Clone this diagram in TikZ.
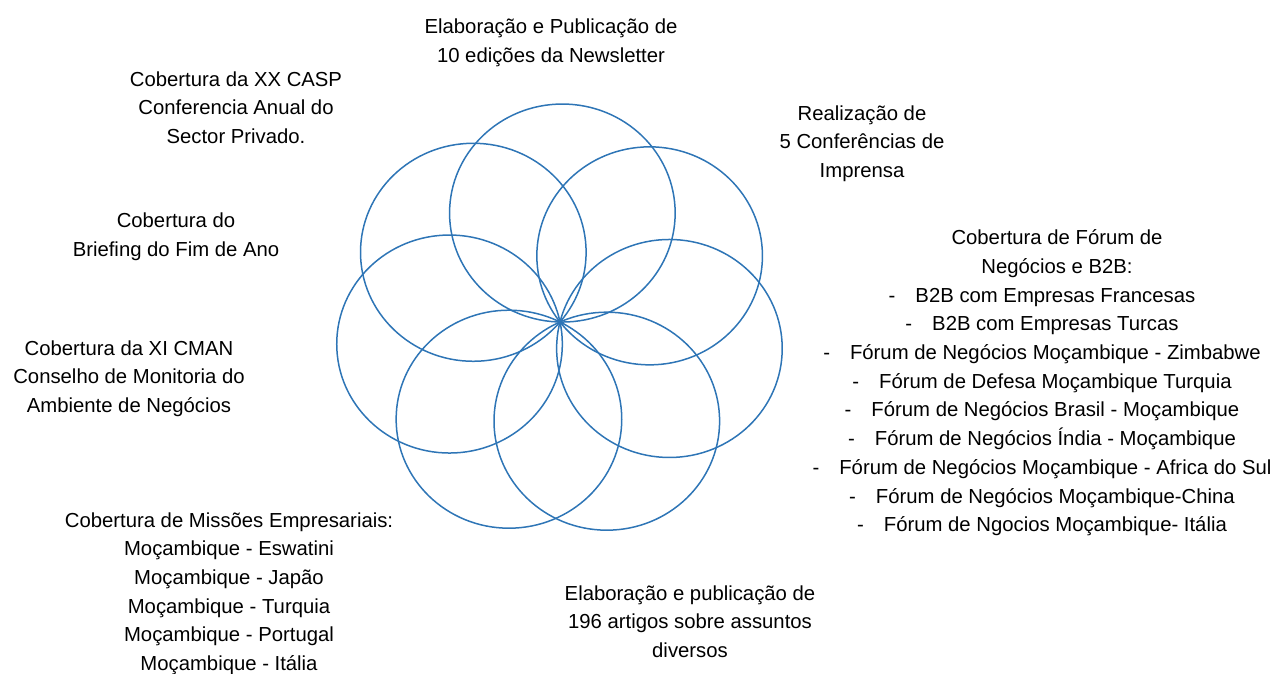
\documentclass[tikz,border=0pt]{standalone}
\usepackage{fontspec}
\setmainfont{Liberation Sans}
\definecolor{petalblue}{HTML}{2E75B6}
\newcommand{\dashitem}[1]{\strut-\hspace{20pt}#1}
\begin{document}
\begin{tikzpicture}[x=1pt,y=-1pt,
  petal/.style={draw=petalblue,line width=1.5pt},
  label/.style={align=center,inner sep=0pt,font=\fontsize{20.3}{28.7}\selectfont}]
\useasboundingbox (0,0) rectangle (1276,673);
\coordinate (P) at (560,322);
\foreach \k in {0,...,6}{
  \pgfmathsetmacro\ang{\k*360/7+1.2}
  \draw[petal] (P) ++({112.8*sin(\ang)},{-109*cos(\ang)}) ellipse [x radius=112.8, y radius=109];
}
\node[label] (news) at (551,42) {\strut Elaboração e Publicação de\\\strut 10 edições da Newsletter};
\node[label] (casp) at (236,109) {\strut Cobertura da XX CASP\\\strut Conferencia Anual do\\\strut Sector Privado.};
\node[label] (conf) at (862,143) {\strut Realização de\\\strut 5 Conferências de\\\strut Imprensa};
\node[label] (brief) at (176,236) {\strut Cobertura do\\\strut Briefing do Fim de Ano};
\node[label] (forum) at (1042,382.5) {\strut\hspace*{30pt}Cobertura de Fórum de\\\strut\hspace*{30pt}Negócios e B2B:\\
  \dashitem{B2B com Empresas Francesas}\\
  \dashitem{B2B com Empresas Turcas}\\
  \dashitem{Fórum de Negócios Moçambique - Zimbabwe}\\
  \dashitem{Fórum de Defesa Moçambique Turquia}\\
  \dashitem{Fórum de Negócios Brasil - Moçambique}\\
  \dashitem{Fórum de Negócios Índia - Moçambique}\\
  \dashitem{Fórum de Negócios Moçambique - Africa do Sul}\\
  \dashitem{Fórum de Negócios Moçambique-China}\\
  \dashitem{Fórum de Ngocios Moçambique- Itália}};
\node[label] (cman) at (129,378) {\strut Cobertura da XI CMAN\\\strut Conselho de Monitoria do\\\strut Ambiente de Negócios};
\node[label] (miss) at (229,593) {\strut Cobertura de Missões Empresariais:\\\strut Moçambique - Eswatini\\\strut Moçambique - Japão\\\strut Moçambique - Turquia\\\strut Moçambique - Portugal\\\strut Moçambique - Itália};
\node[label] (art) at (690,623) {\strut Elaboração e publicação de\\\strut 196 artigos sobre assuntos\\\strut diversos};
\end{tikzpicture}
\end{document}
